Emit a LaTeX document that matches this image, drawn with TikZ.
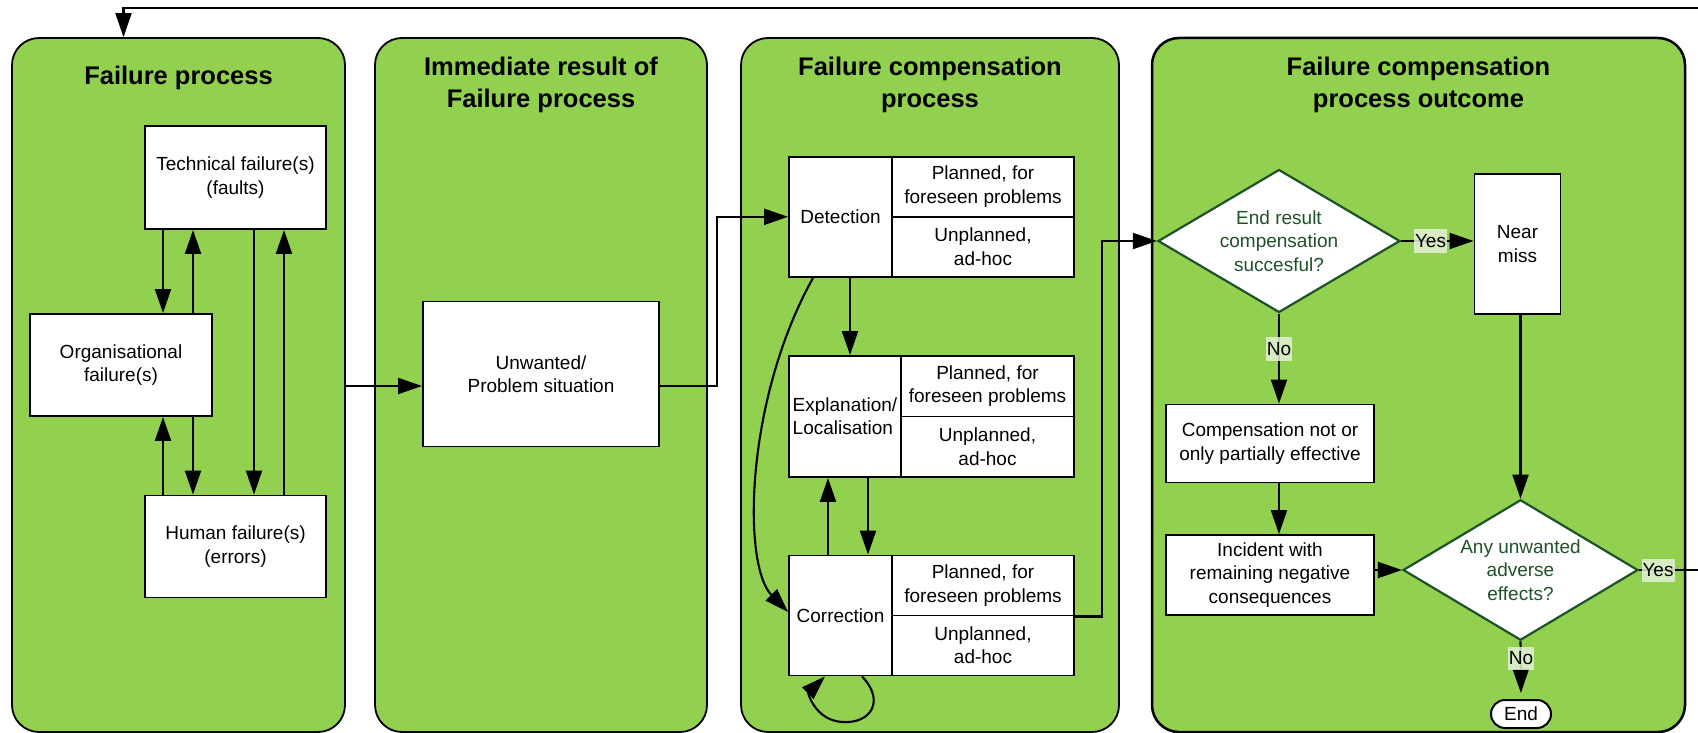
\documentclass[tikz,border=0pt]{standalone}
\usepackage{fontspec}
\setmainfont{Liberation Sans}
\usetikzlibrary{shapes.geometric,arrows.meta,calc}
\definecolor{panelgreen}{RGB}{146,208,80}
\definecolor{dkgreen}{RGB}{30,82,40}
\definecolor{labelbg}{RGB}{228,242,214}
\begin{document}
\begin{tikzpicture}[x=1bp,y=-1bp,
  panel/.style={draw=black, line width=1.8bp, fill=panelgreen, rounded corners=27bp, inner sep=0},
  ttl/.style={font=\fontsize{25.5bp}{31.5bp}\selectfont\bfseries, align=center, inner sep=0},
  box/.style={draw=black, line width=1.9bp, fill=white, inner sep=0, align=center, font=\fontsize{19bp}{23.4bp}\selectfont},
  dia/.style={diamond, draw=dkgreen, line width=2.2bp, fill=white, text=dkgreen, inner sep=0, align=center, font=\fontsize{19bp}{23.4bp}\selectfont, aspect=1.69},
  arr/.style={line width=2.1bp, -{Triangle[length=24bp,width=16bp]}},
  lbl/.style={fill=labelbg, fill opacity=0.85, text opacity=1, inner xsep=1bp, inner ysep=0, minimum height=23.5bp, font=\fontsize{19bp}{23.4bp}\selectfont}
]
\useasboundingbox (0,0) rectangle (1698,733);
\fill[white] (0,0) rectangle (1698,733);

% panels
\node[panel, minimum width=333bp, minimum height=694bp] (p1) at (178.5,385) {};
\node[panel, minimum width=332bp, minimum height=694bp] (p2) at (541,385) {};
\node[panel, minimum width=378bp, minimum height=694bp] (p3) at (930,385) {};
\node[panel, line width=2.5bp, minimum width=533bp, minimum height=694bp] (p4) at (1418.5,385) {};

% titles
\node[ttl] (t1) at (178.5,78) {Failure process};
\node[ttl] (t2) at (541,85) {Immediate result of\\Failure process};
\node[ttl] (t3) at (930,85) {Failure compensation\\process};
\node[ttl] (t4) at (1418.5,85) {Failure compensation\\process outcome};

% panel 1 boxes
\node[box, minimum width=181bp, minimum height=103bp] (tech) at (235.5,177.5) {Technical failure(s)\\(faults)};
\node[box, minimum width=182bp, minimum height=102bp] (org) at (121,365) {Organisational\\failure(s)};
\node[box, minimum width=181bp, minimum height=102bp] (hum) at (235.5,546.5) {Human failure(s)\\(errors)};

% panel 2 box
\node[box, minimum width=236bp, minimum height=145bp] (unw) at (541,374) {Unwanted/\\Problem situation};

% panel 3 compound boxes
\node[box, minimum width=103bp, minimum height=120.4bp] (detL) at (840.5,216.8) {Detection};
\node[box, minimum width=182bp, minimum height=60.2bp] (detA) at (983,186.7) {Planned, for\\foreseen problems};
\node[box, minimum width=182bp, minimum height=60.2bp] (detB) at (983,246.9) {Unplanned,\\ad-hoc};

\node[box, minimum width=112bp, minimum height=121bp, align=left] (expL) at (845,416.5) {Explanation/\\Localisation};
\node[box, minimum width=173bp, minimum height=60.5bp] (expA) at (987.5,386.25) {Planned, for\\foreseen problems};
\node[box, minimum width=173bp, minimum height=60.5bp] (expB) at (987.5,446.75) {Unplanned,\\ad-hoc};

\node[box, minimum width=103bp, minimum height=120bp] (corL) at (840.5,615.5) {Correction};
\node[box, minimum width=182bp, minimum height=60bp] (corA) at (983,585.5) {Planned, for\\foreseen problems};
\node[box, minimum width=182bp, minimum height=60bp] (corB) at (983,645.5) {Unplanned,\\ad-hoc};

% panel 4
\node[dia, minimum width=242bp, minimum height=143bp] (d1) at (1279,241) {End result\\compensation\\succesful?};
\node[box, minimum width=86bp, minimum height=139.6bp] (nm) at (1517.5,244.2) {Near\\miss};
\node[box, minimum width=208.4bp, minimum height=78bp] (comp) at (1270,443.5) {Compensation not or\\only partially effective};
\node[box, minimum width=208.4bp, minimum height=80bp] (inc) at (1270,575) {Incident with\\remaining negative\\consequences};
\node[dia, minimum width=235bp, minimum height=140.5bp] (d2) at (1520.5,570) {Any unwanted\\adverse\\effects?};
\node[box, line width=2bp, rounded corners=14bp, minimum width=60bp, minimum height=28bp] (endn) at (1521,714) {End};

% helper coordinates
\coordinate (xa) at (163,0);
\coordinate (xb) at (193,0);
\coordinate (xc) at (254,0);
\coordinate (xd) at (284,0);
\coordinate (yu) at (0,386);
\coordinate (j1) at (717,0);
\coordinate (xe) at (850,0);
\coordinate (xf) at (868,0);
\coordinate (xg) at (828,0);
\coordinate (xh) at (813,0);
\coordinate (cw) at (0,612);
\coordinate (xi) at (862,0);
\coordinate (xj) at (825,0);
\coordinate (j2) at (1102,0);
\coordinate (rt) at (1702,8);
\coordinate (lt) at (123.5,8);

% panel 1 connectors
\draw[arr] (tech.south -| xa) -- (org.north -| xa);
\draw[arr] (org.north -| xb) -- (tech.south -| xb);
\draw[arr] (tech.south -| xc) -- (hum.north -| xc);
\draw[arr] (hum.north -| xd) -- (tech.south -| xd);
\draw[arr] (hum.north -| xa) -- (org.south -| xa);
\draw[arr] (org.south -| xb) -- (hum.north -| xb);

% panel 1 -> panel 2 -> panel 3
\draw[arr] (p1.east |- yu) -- (unw.west |- yu);
\draw[arr] (unw.east |- yu) -| (j1 |- detL.west) -- (detL.west);

% panel 3 connectors
\draw[arr] (detL.south -| xe) -- (expL.north -| xe);
\draw[arr] (expL.south -| xf) -- (corL.north -| xf);
\draw[arr] (corL.north -| xg) -- (expL.south -| xg);
\draw[arr] (detL.south -| xh) .. controls (745,400) and (742,565) .. (corL.west |- cw);
\draw[arr] (corL.south -| xi) .. controls (885,700) and (872,724) .. (842,722) .. controls (815,720) and (808,693) .. (corL.south -| xj);
\draw[arr] (corA.south east) -| (j2 |- d1.west) -- (d1.west);

% panel 4 connectors
\draw[arr] (d1.east) -- (nm.west |- d1.east);
\node[lbl] (y1) at (1430.5,241) {Yes};
\draw[arr] (d1.south) -- (d1.south |- comp.north);
\node[lbl] (n1) at (1279,349) {No};
\draw[arr] (d1.south |- comp.south) -- (d1.south |- inc.north);
\draw[arr] (inc.east |- d2.west) -- (d2.west);
\draw[arr] (nm.south -| d2.north) -- (d2.north);
\draw[arr, shorten >=6bp] (d2.south) -- (endn.north);
\node[lbl] (n2) at (1521,658.5) {No};
\draw[arr] (d2.east) -- (d2.east -| rt) -- (rt) -- (lt) -- (lt |- p1.north);
\node[lbl] (y2) at (1658,570.5) {Yes};
\end{tikzpicture}
\end{document}
